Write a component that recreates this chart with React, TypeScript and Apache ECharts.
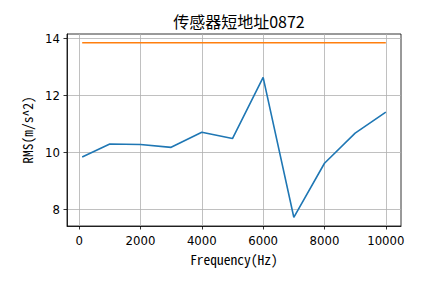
import React, { useEffect, useRef } from "react";
import * as echarts from "echarts";

const title = "传感器短地址0872";
const xName = "Frequency(Hz)";
const yName = "RMS(m/s^2)";
const frequencies = [100, 1000, 2000, 3000, 4000, 5000, 6000, 7000, 8000, 9000, 10000];
const rmsValues = [9.83, 10.29, 10.27, 10.17, 10.70, 10.48, 12.63, 7.71, 9.61, 10.67, 11.41];
const thresholdX = [100, 10000];
const thresholdValue = 13.85;
const xTicks = [0, 2000, 4000, 6000, 8000, 10000];
const yTicks = [8, 10, 12, 14];

const tickFont = "'Liberation Sans Narrow', 'DejaVu Sans Condensed', 'Noto Sans CJK SC', sans-serif";
const cjkFont = "'Noto Sans CJK SC', sans-serif";
const monoFont = "'Noto Sans Mono CJK SC', 'Noto Sans CJK SC', monospace";

export default function App() {
  const ref = useRef<HTMLDivElement>(null);
  useEffect(() => {
    if (!ref.current) return;
    const chart = echarts.init(ref.current, null, { renderer: "svg" });
    const xPad = (frequencies[frequencies.length - 1] - frequencies[0]) * 0.05;
    const allY = rmsValues.concat([thresholdValue]);
    const yMinD = Math.min(...allY);
    const yMaxD = Math.max(...allY);
    const yPad = (yMaxD - yMinD) * 0.05;
    chart.setOption({
      animation: false,
      backgroundColor: "#fff",
      title: {
        text: title,
        left: 234,
        top: 8,
        textAlign: "center",
        textStyle: { fontFamily: cjkFont, fontSize: 16, fontWeight: "normal", color: "#000" },
      },
      grid: {
        left: 67,
        right: 44,
        top: 34,
        bottom: 57,
        show: true,
        borderColor: "#000",
        borderWidth: 0.8,
        backgroundColor: "transparent",
      },
      xAxis: {
        type: "value",
        min: frequencies[0] - xPad,
        max: frequencies[frequencies.length - 1] + xPad,
        name: xName,
        nameLocation: "middle",
        nameGap: 25,
        nameTextStyle: { fontFamily: monoFont, fontSize: 13.5, color: "#000" },
        axisLine: { show: true, onZero: false, lineStyle: { color: "#000", width: 0.8 } },
        axisTick: { show: true, inside: false, length: 3.5, lineStyle: { color: "#000", width: 0.8 }, customValues: xTicks },
        axisLabel: {
          customValues: xTicks,
          margin: 8,
          fontFamily: tickFont,
          fontSize: 13,
          color: "#000",
          formatter: (v: number) => String(v),
        },
        splitLine: { show: true, lineStyle: { color: "#b0b0b0", width: 0.8 } },
      },
      yAxis: {
        type: "value",
        min: yMinD - yPad,
        max: yMaxD + yPad,
        name: yName,
        nameLocation: "middle",
        nameGap: 28,
        nameRotate: 90,
        nameTextStyle: { fontFamily: monoFont, fontSize: 13.5, color: "#000" },
        axisLine: { show: true, onZero: false, lineStyle: { color: "#000", width: 0.8 } },
        axisTick: { show: true, inside: false, length: 3.5, lineStyle: { color: "#000", width: 0.8 }, customValues: yTicks },
        axisLabel: {
          customValues: yTicks,
          margin: 7,
          fontFamily: tickFont,
          fontSize: 13,
          color: "#000",
          formatter: (v: number) => String(v),
        },
        splitLine: { show: true, lineStyle: { color: "#b0b0b0", width: 0.8 } },
      },
      series: [
        {
          type: "line",
          data: frequencies.map((f, i) => [f, rmsValues[i]]),
          symbol: "none",
          lineStyle: { color: "#1f77b4", width: 1.6 },
          itemStyle: { color: "#1f77b4" },
        },
        {
          type: "line",
          data: thresholdX.map((f) => [f, thresholdValue]),
          symbol: "none",
          lineStyle: { color: "#ff7f0e", width: 1.6 },
          itemStyle: { color: "#ff7f0e" },
        },
      ],
    });
    return () => chart.dispose();
  }, []);
  return <div ref={ref} style={{ position: "fixed", left: 0, top: 0, width: 445, height: 283 }} />;
}
